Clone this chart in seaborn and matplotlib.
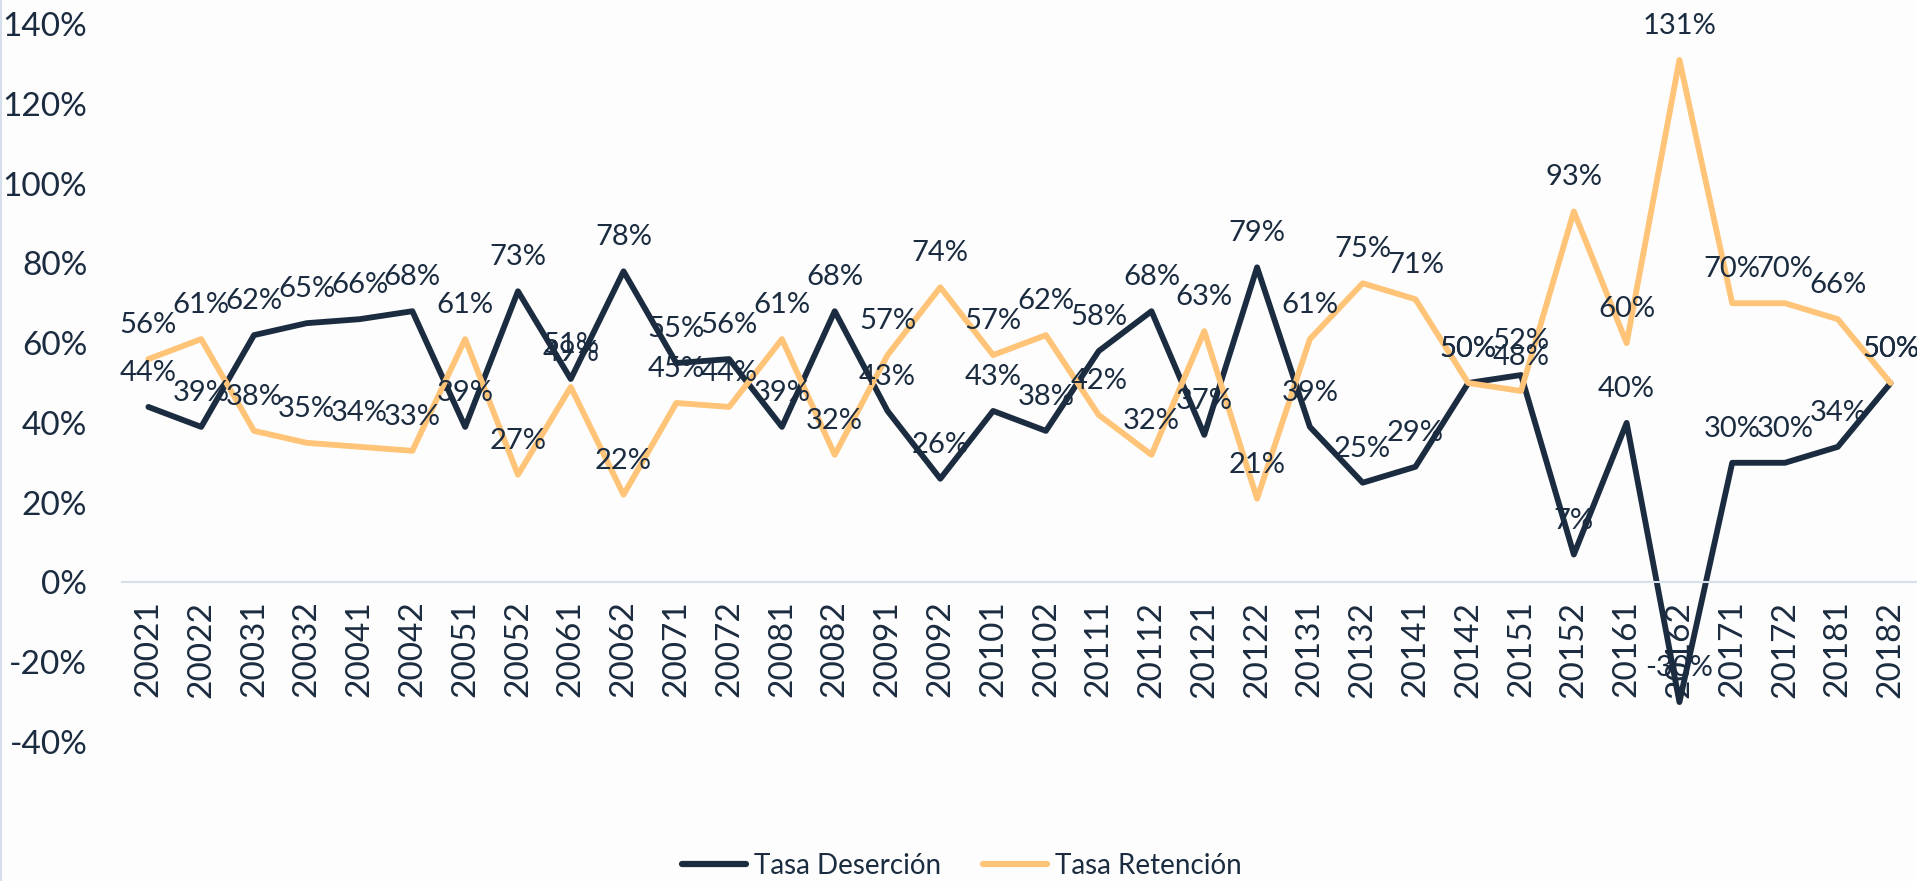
import pandas as pd
import matplotlib.pyplot as plt
import seaborn as sns

# periodos (año + semestre)
periodos = ['20021', '20022', '20031', '20032', '20041', '20042', '20051', '20052',
            '20061', '20062', '20071', '20072', '20081', '20082', '20091', '20092',
            '20101', '20102', '20111', '20112', '20121', '20122', '20131', '20132',
            '20141', '20142', '20151', '20152', '20161', '20162', '20171', '20172',
            '20181', '20182']

tasa_desercion = [0.44, 0.39, 0.62, 0.65, 0.66, 0.68, 0.39, 0.73, 0.51, 0.78,
                  0.55, 0.56, 0.39, 0.68, 0.43, 0.26, 0.43, 0.38, 0.58, 0.68,
                  0.37, 0.79, 0.39, 0.25, 0.29, 0.50, 0.52, 0.07, 0.40, -0.30,
                  0.30, 0.30, 0.34, 0.50]

tasa_retencion = [0.56, 0.61, 0.38, 0.35, 0.34, 0.33, 0.61, 0.27, 0.49, 0.22,
                  0.45, 0.44, 0.61, 0.32, 0.57, 0.74, 0.57, 0.62, 0.42, 0.32,
                  0.63, 0.21, 0.61, 0.75, 0.71, 0.50, 0.48, 0.93, 0.60, 1.31,
                  0.70, 0.70, 0.66, 0.50]

series = ['Tasa Deserción', 'Tasa Retención']
colores = ['#1B2C40', '#FFC477']
texto = '#1B2C40'
fondo = '#FDFDFD'

df = pd.DataFrame({
    'Periodo': periodos * 2,
    'Tasa': tasa_desercion + tasa_retencion,
    'Serie': [series[0]] * len(periodos) + [series[1]] * len(periodos),
})

sns.set_style('white')
plt.rcParams['font.family'] = ['Lato', 'DejaVu Sans']
plt.rcParams['text.color'] = texto

fig = plt.figure(figsize=(19.17, 8.81), dpi=100, facecolor=fondo)
ax = fig.add_axes([122 / 1917, 139 / 881, 1 - 122 / 1917, 718 / 881])
ax.set_facecolor(fondo)

sns.lineplot(data=df, x='Periodo', y='Tasa', hue='Serie', palette=colores,
             linewidth=4.2, sort=False, ax=ax)

# etiquetas de datos encima de cada punto
for serie, valores in zip(series, [tasa_desercion, tasa_retencion]):
    for i, v in enumerate(valores):
        ax.annotate(f'{v * 100:.0f}%', (i, v), xytext=(0, 34),
                    textcoords='offset pixels', ha='center', va='center',
                    fontsize=21, color=texto)

ax.set_xlim(-0.5, len(periodos) - 0.5)
ax.set_ylim(-0.4, 1.4)
ax.set_yticks([-0.4, -0.2, 0, 0.2, 0.4, 0.6, 0.8, 1.0, 1.2, 1.4])
ax.set_yticklabels([f'{t}%' for t in range(-40, 141, 20)])
ax.tick_params(axis='y', length=0, pad=25, labelsize=24, labelcolor=texto)
ax.tick_params(axis='x', length=0, pad=13, labelsize=24, labelcolor=texto,
               rotation=90)
ax.set_xlabel('')
ax.set_ylabel('')

for s in ['top', 'right', 'left']:
    ax.spines[s].set_visible(False)
ax.spines['bottom'].set_position(('data', 0))
ax.spines['bottom'].set_color('#D5E0EC')
ax.spines['bottom'].set_linewidth(1.5)

leg = ax.legend(loc='center', bbox_to_anchor=(0.468, -0.173), ncol=2,
                frameon=False, fontsize=20, handlelength=2.3,
                columnspacing=1.5, handletextpad=0.3)
for t in leg.get_texts():
    t.set_color(texto)
for h in leg.get_lines():
    h.set_linewidth(4.5)

fig.add_artist(plt.Line2D([0.0006, 0.0006], [0, 1], color='#D5E0EC', lw=1.5,
                          transform=fig.transFigure))

plt.savefig('out.png', dpi=100, facecolor=fondo)
